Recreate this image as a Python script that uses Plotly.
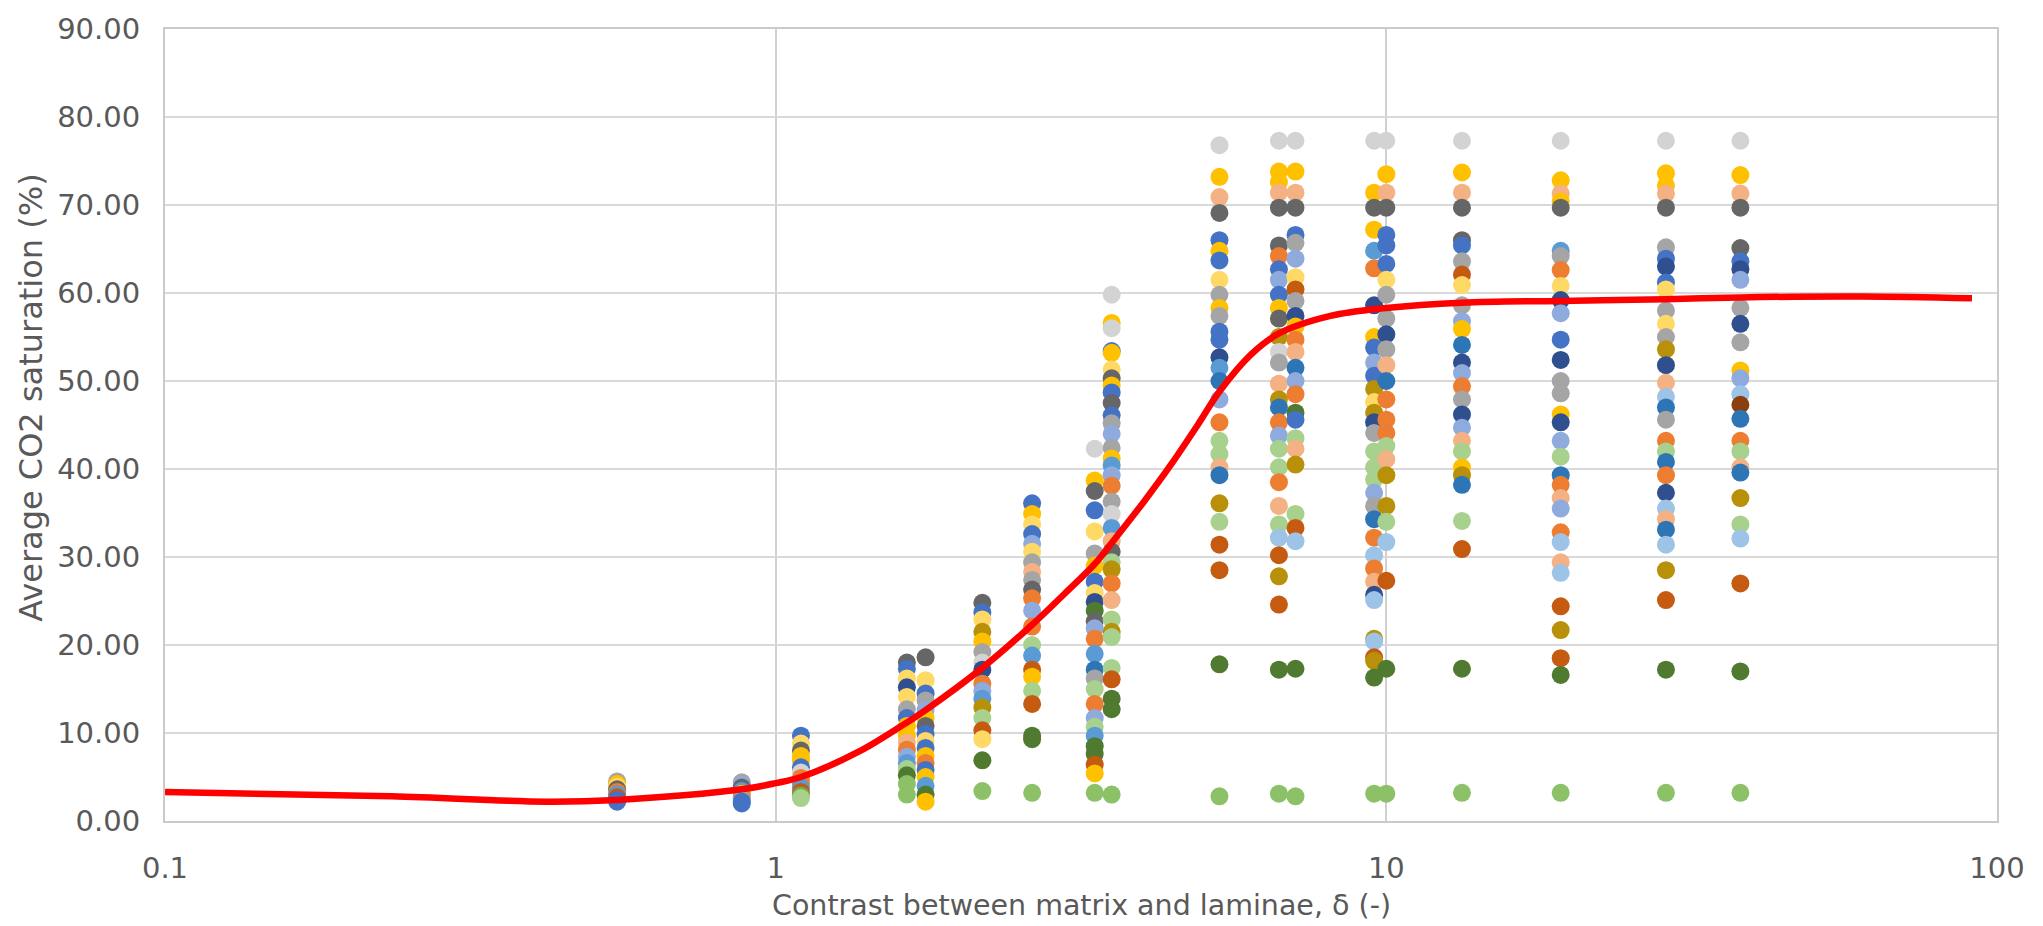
import plotly.graph_objects as go

# ---------------- data ----------------
DELTA = [0.55, 0.88, 1.1, 1.64, 1.76, 2.18, 2.63, 3.33, 3.55, 5.33, 6.67, 7.1,
         9.55, 10.0, 13.3, 19.3, 28.7, 38.0]

S_055 = [4.5, 4.2, 3.9, 3.6, 3.3, 3.0, 2.7, 2.4, 2.2]
K_055 = ["G", "Y", "LY", "DG", "O", "LB", "RU", "B", "B"]

S_088 = [4.4, 4.1, 3.8, 3.4, 3.1, 2.8, 2.5, 2.2, 2.0]
K_088 = ["G", "LV", "DG", "LB", "Y", "O", "G", "B", "B"]

S_110 = [9.7, 8.8, 8.0, 7.4, 6.9, 6.1, 5.5, 4.9, 4.3, 3.8, 3.3, 2.9, 2.6]
K_110 = ["B", "LY", "DG", "Y", "Y", "B", "LG", "O", "O", "LB", "RU", "GR", "LGR"]

S_164 = [18.0, 17.3, 16.2, 15.2, 14.1, 12.7, 11.7, 10.8, 9.7, 8.9, 8.1, 7.3, 6.6,
         5.9, 5.2, 4.2, 3.0]
K_164 = ["DG", "B", "LY", "NV", "LY", "G", "B", "Y", "Y", "PE", "O", "LV", "LB",
         "LGR", "DGR", "LGB", "LGB"]

S_176 = [18.6, 16.0, 14.5, 13.7, 12.6, 11.7, 10.8, 9.9, 9.1, 8.3, 7.4, 6.6, 5.8,
         5.0, 4.0, 3.0, 2.2]
K_176 = ["DG", "LY", "B", "G", "LV", "Y", "DG", "B", "LY", "B", "Y", "O", "B",
         "Y", "LB", "DGR", "Y"]

S_218 = [24.8, 23.7, 22.9, 21.5, 20.4, 19.2, 18.0, 17.2, 15.6, 14.8, 13.9, 12.9,
         11.7, 10.3, 9.3, 6.9, 3.4]
K_218 = ["DG", "B", "LY", "OL", "Y", "G", "LG", "NV", "O", "LV", "LB", "OL",
         "LGR", "RU", "LY", "DGR", "LGB"]

S_263 = [36.1, 34.9, 33.7, 32.6, 31.5, 30.6, 29.4, 28.3, 27.4, 26.3, 25.3, 23.9,
         22.1, 20.0, 18.8, 17.2, 16.4, 14.8, 13.3, 9.7, 9.3, 3.2]
K_263 = ["B", "Y", "LY", "B", "LV", "LY", "G", "PE", "G", "DG", "O", "LV",
         "O", "LGR", "LB", "RU", "Y", "LGR", "RU", "DGR", "DGR", "LGB"]

S_333 = [42.3, 38.7, 37.5, 35.3, 32.9, 30.4, 29.0, 27.2, 25.9, 24.9, 23.9, 22.7,
         21.9, 20.7, 19.0, 17.2, 16.2, 15.0, 13.3, 11.7, 10.7, 9.7, 8.5, 7.6,
         6.4, 5.4, 3.2]
K_333 = ["LG", "Y", "DG", "B", "LY", "G", "Y", "B", "LY", "NV", "DGR", "DG",
         "LV", "O", "LB", "SB", "G", "LGR", "O", "LV", "LGR", "LB", "DGR", "DGR",
         "RU", "Y", "LGB"]

S_355 = [59.8, 56.6, 56.0, 53.4, 53.2, 51.3, 50.3, 49.5, 48.7, 47.5, 46.1, 45.2,
         44.0, 42.4, 41.2, 40.4, 39.3, 38.1, 36.3, 34.9, 33.3, 31.8, 30.6, 29.4,
         28.6, 27.0, 25.1, 22.9, 21.5, 20.9, 17.4, 16.1, 13.9, 12.7, 3.0]
K_355 = ["LG", "Y", "LG", "B", "Y", "LY", "DG", "Y", "B", "DG", "B", "G",
         "LV", "G", "Y", "LB", "LV", "O", "G", "LG", "LB", "PE", "DG", "LGR",
         "OL", "O", "PE", "LGR", "OL", "LGR", "LGR", "RU", "DGR", "DGR", "LGB"]

S_533 = [76.8, 73.2, 70.9, 69.1, 66.0, 64.8, 63.7, 61.5, 59.8, 58.3, 57.4, 55.6,
         54.7, 52.7, 51.5, 50.0, 47.9, 45.3, 43.2, 41.7, 40.2, 39.3, 36.1, 34.0,
         31.4, 28.5, 17.8, 2.8]
K_533 = ["LG", "Y", "PE", "DG", "B", "Y", "B", "LY", "G", "Y", "G", "B",
         "B", "NV", "LB", "SB", "LV", "O", "LGR", "LGR", "PE", "SB", "OL", "LGR",
         "RU", "RU", "DGR", "LGB"]

S_667 = [77.3, 73.8, 72.6, 71.4, 69.7, 65.4, 64.2, 62.7, 61.5, 59.8, 58.3, 57.1,
         55.0, 53.3, 52.1, 49.7, 47.9, 47.0, 45.3, 43.8, 42.3, 40.2, 38.5, 35.8,
         33.7, 32.2, 30.2, 27.8, 24.6, 17.2, 3.1]
K_667 = ["LG", "Y", "Y", "PE", "DG", "DG", "O", "B", "LV", "B", "Y", "DG",
         "OL", "LG", "G", "PE", "OL", "SB", "O", "LV", "LGR", "LGR", "O", "PE",
         "LGR", "LBL", "RU", "OL", "RU", "DGR", "LGB"]

S_710 = [77.3, 73.8, 71.4, 69.7, 66.6, 65.7, 63.9, 61.8, 60.4, 59.1, 57.4, 56.2,
         54.7, 53.3, 51.5, 50.0, 48.5, 46.4, 45.6, 43.5, 42.3, 40.5, 34.9, 33.3,
         31.8, 17.3, 2.8]
K_710 = ["LG", "Y", "PE", "DG", "B", "G", "LV", "LY", "RU", "G", "NV", "Y",
         "O", "PE", "SB", "LV", "O", "DGR", "B", "LGR", "PE", "OL", "LGR", "RU",
         "LBL", "DGR", "LGB"]

S_955 = [77.3, 71.4, 69.7, 67.2, 64.8, 62.8, 58.6, 55.0, 53.8, 52.1, 50.6, 49.1,
         47.6, 46.4, 45.3, 44.1, 42.0, 40.2, 38.8, 37.3, 35.8, 34.3, 32.2, 30.2,
         28.7, 27.2, 25.7, 25.1, 20.7, 20.4, 18.6, 18.2, 16.3, 3.1]
K_955 = ["LG", "Y", "DG", "Y", "LB", "O", "NV", "Y", "B", "LV", "B", "OL",
         "LY", "OL", "NV", "G", "LGR", "LGR", "LGR", "LV", "G", "SB", "O", "LBL",
         "O", "PE", "NV", "LBL", "OL", "LBL", "RU", "OL", "DGR", "LGB"]

S_1000 = [77.3, 73.5, 71.4, 69.7, 66.6, 65.4, 63.3, 61.5, 59.8, 57.1, 55.3, 53.6,
          51.8, 50.0, 47.9, 45.6, 44.1, 42.6, 41.1, 39.3, 35.8, 34.0, 31.7, 27.3,
          17.3, 3.1]
K_1000 = ["LG", "Y", "PE", "DG", "B", "B", "B", "LY", "G", "G", "NV", "G",
          "PE", "SB", "O", "O", "O", "LGR", "PE", "OL", "OL", "LGR", "LBL", "RU",
          "DGR", "LGB"]

S_1330 = [77.3, 73.7, 71.4, 69.7, 66.0, 65.4, 63.6, 62.1, 60.9, 58.6, 56.8, 55.9,
          54.1, 52.1, 50.9, 49.4, 47.9, 46.2, 44.7, 43.2, 42.0, 40.2, 39.3, 38.2,
          34.1, 30.9, 17.3, 3.2]
K_1330 = ["LG", "Y", "PE", "DG", "DG", "B", "G", "RU", "LY", "G", "LV", "Y",
          "SB", "NV", "LV", "O", "G", "NV", "LV", "PE", "LGR", "Y", "OL", "SB",
          "LGR", "RU", "DGR", "LGB"]

S_1930 = [77.3, 72.8, 71.3, 70.4, 69.7, 64.8, 64.2, 62.6, 60.8, 59.2, 57.7, 54.7,
          52.4, 50.0, 48.6, 46.2, 45.3, 43.2, 41.4, 39.3, 38.2, 36.7, 35.5, 32.8,
          31.7, 29.4, 28.2, 24.4, 21.7, 18.5, 16.6, 3.2]
K_1930 = ["LG", "Y", "PE", "Y", "DG", "LB", "G", "O", "LY", "NV", "LV", "B",
          "NV", "G", "G", "Y", "NV", "LV", "LGR", "SB", "O", "PE", "LV", "O",
          "LBL", "PE", "LBL", "RU", "OL", "RU", "DGR", "LGB"]

S_2870 = [77.3, 73.6, 72.2, 71.3, 69.7, 65.2, 63.9, 63.0, 61.2, 60.4, 58.0, 56.5,
          55.0, 53.6, 51.8, 49.8, 48.2, 47.0, 45.6, 43.2, 42.0, 40.8, 39.3, 37.3,
          35.5, 34.3, 33.1, 31.4, 28.5, 25.1, 17.2, 3.2]
K_2870 = ["LG", "Y", "Y", "PE", "DG", "G", "B", "NV", "B", "LY", "G", "LY",
          "G", "OL", "NV", "PE", "LBL", "SB", "G", "O", "LGR", "SB", "O", "NV",
          "LBL", "PE", "SB", "LBL", "OL", "RU", "DGR", "LGB"]

S_3800 = [77.3, 73.4, 71.3, 69.7, 65.1, 63.6, 62.7, 61.5, 58.3, 56.5, 54.4, 51.2,
          50.3, 48.5, 47.3, 45.7, 43.2, 42.0, 40.2, 39.6, 36.7, 33.7, 32.1, 27.0,
          17.0, 3.2]
K_3800 = ["LG", "Y", "PE", "DG", "DG", "B", "NV", "LV", "G", "NV", "G", "Y",
          "LV", "LBL", "BR", "SB", "O", "LGR", "PE", "SB", "OL", "LGR", "LBL", "RU",
          "DGR", "LGB"]

COLUMNS = [(S_055, K_055), (S_088, K_088), (S_110, K_110), (S_164, K_164),
           (S_176, K_176), (S_218, K_218), (S_263, K_263), (S_333, K_333),
           (S_355, K_355), (S_533, K_533), (S_667, K_667), (S_710, K_710),
           (S_955, K_955), (S_1000, K_1000), (S_1330, K_1330), (S_1930, K_1930),
           (S_2870, K_2870), (S_3800, K_3800)]

TREND_X = [0.1, 0.235, 0.42, 0.55, 0.88, 1.0, 1.1, 1.37, 1.64, 1.76, 2.18,
           2.63, 2.97, 3.33, 3.55, 4.02, 4.43, 4.91, 5.33, 6.0, 6.67, 8.1, 10.0,
           13.3, 19.3, 28.7, 38.0, 60.0, 91.0]
TREND_Y = [3.3, 2.8, 2.2, 2.4, 3.6, 4.3, 5.0, 7.9, 11.2, 12.6, 17.4,
           22.3, 25.8, 29.2, 31.6, 36.4, 40.4, 45.0, 48.8, 53.0, 55.4, 57.4, 58.3,
           58.9, 59.1, 59.3, 59.5, 59.6, 59.4]

Y_TICKS = [0, 10, 20, 30, 40, 50, 60, 70, 80, 90]
X_TICKS = [0.1, 1, 10, 100]
X_TICK_TEXT = ["0.1", "1", "10", "100"]

# ---------------- style ----------------
PALETTE = {
    "B": "#4472C4", "O": "#ED7D31", "G": "#A5A5A5", "Y": "#FFC000",
    "LB": "#5B9BD5", "GR": "#70AD47", "NV": "#2F4F8F", "RU": "#C55A11",
    "DG": "#666666", "OL": "#B8900A", "SB": "#2E75B6", "DGR": "#4F7A2F",
    "LV": "#8FAADC", "PE": "#F4B183", "LG": "#D3D3D3", "LY": "#FFD966",
    "LBL": "#9DC3E6", "LGR": "#A9D18E", "LGB": "#8CC168", "BR": "#8B3E0F",
}
FONT = "DejaVu Sans"
TXT = "#595959"

fig = go.Figure()
for xv, (vals, keys) in zip(DELTA, COLUMNS):
    fig.add_trace(go.Scatter(
        x=[xv] * len(vals), y=vals, mode="markers",
        marker=dict(size=18, color=[PALETTE[k] for k in keys], line=dict(width=0)),
        showlegend=False, hoverinfo="x+y"))

fig.add_trace(go.Scatter(
    x=TREND_X, y=TREND_Y, mode="lines",
    line=dict(color="#FF0000", width=6.5, shape="spline", smoothing=1.0),
    showlegend=False))

fig.update_layout(
    width=2043, height=926,
    margin=dict(l=165, r=46, t=22, b=105),
    paper_bgcolor="white", plot_bgcolor="white",
    font=dict(family=FONT, color=TXT),
    xaxis=dict(type="log", range=[-1, 2], tickvals=X_TICKS, ticktext=X_TICK_TEXT,
               showgrid=True, gridcolor="#D0D0D0", gridwidth=1.5,
               showline=True, linecolor="#CACACA", linewidth=2, mirror=True,
               ticks="", ticklabelstandoff=20,
               tickfont=dict(family=FONT, size=29, color=TXT), zeroline=False),
    yaxis=dict(range=[0, 90], tickvals=Y_TICKS, tickformat=".2f",
               showgrid=True, gridcolor="#D9D9D9", gridwidth=1.5,
               showline=True, linecolor="#CACACA", linewidth=2, mirror=True,
               ticks="", ticklabelstandoff=17,
               tickfont=dict(family=FONT, size=29, color=TXT), zeroline=False),
    annotations=[
        dict(text="Contrast between matrix and laminae, δ (-)", xref="paper",
             yref="paper", x=0.5, y=(821 - 906) / 799, xanchor="center",
             yanchor="middle", showarrow=False,
             font=dict(family=FONT, size=28.5, color=TXT)),
        dict(text="Average CO2 saturation (%)", xref="paper", yref="paper",
             x=(31 - 165) / 1832, y=(821 - 394) / 799, xanchor="center",
             yanchor="middle", textangle=-90, showarrow=False,
             font=dict(family=FONT, size=32, color=TXT)),
    ],
)

fig.write_html("out.html")
